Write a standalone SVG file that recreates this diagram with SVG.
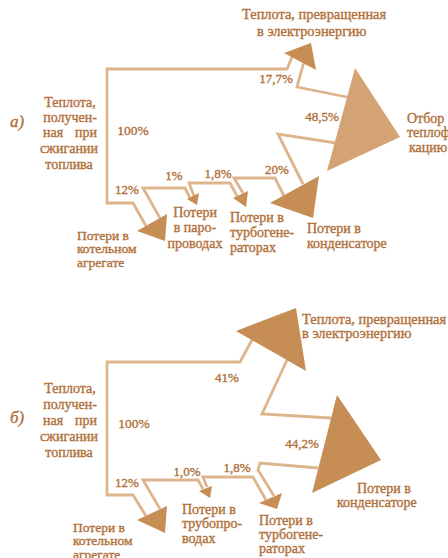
<svg xmlns="http://www.w3.org/2000/svg" width="448" height="558" viewBox="0 0 448 558">
<style>
.ln{fill:none;stroke:#DDB58C;stroke-width:2.8;stroke-linejoin:miter;stroke-miterlimit:10}
.ar{fill:#C68D55}
.arl{fill:#D3A373}
.t text{font-family:'Liberation Serif','Times New Roman',serif;font-size:14px;fill:#B0703A;stroke:#B0703A;stroke-width:0.35}
.t .p{font-size:13px}
.t .it{font-style:italic;font-size:17px}
.t .m{text-anchor:middle}
.t .s{font-size:13.5px}
</style>
<rect width="448" height="558" fill="#FFFFFF"/>
<g class="t">
<g id="connectors">
  <polyline class="ln" points="146,226 133,203 107,203 107,69 287,69 292,57"/>
  <polyline class="ln" points="303.5,63.5 297,87 347,97"/>
  <polyline class="ln" points="336,143 278,134 303,184"/>
  <polyline class="ln" points="284,196 275,178 234,178 243,193"/>
  <polyline class="ln" points="237,196 230,183 189,183 194,196"/>
  <polyline class="ln" points="190,198 185,188 143,188 160,218"/>
  <polygon class="ar" points="284,53 311,43 316,70"/>
  <polygon class="arl" points="355,68 400,137 327,171"/>
  <polygon class="ar" points="270,203 319,176 313,218"/>
  <polygon class="ar" points="233,198 248,191 246,207"/>
  <polygon class="ar" points="187,199 199,193 197,205"/>
  <polygon class="ar" points="137,231 167,214 165,241"/>
  <text class="p m" x="133" y="134.5" style="font-size:13.5px">100%</text>
  <text class="p m" x="276" y="82.5">17,7%</text>
  <text class="p m" x="322" y="120.5">48,5%</text>
  <text class="p m" x="127" y="193.5">12%</text>
  <text class="p m" x="174" y="179.5">1%</text>
  <text class="p m" x="218" y="177.5">1,8%</text>
  <text class="p m" x="277" y="173.5">20%</text>
  <polyline class="ln" points="146,516 133,495 107,495 107,362 240,362 252,340"/>
  <polyline class="ln" points="331,418 262,414 287,360"/>
  <polyline class="ln" points="274,496 258,470 260,463 318,468"/>
  <polyline class="ln" points="266,500 253,477 203,477 207,487"/>
  <polyline class="ln" points="203,489 198,480 143,480 160,509"/>
  <polygon class="ar" points="236,331 296,308 306,371"/>
  <polygon class="ar" points="337,395 381,460 312,493"/>
  <polygon class="ar" points="259,503 282,493 277,509"/>
  <polygon class="ar" points="199,491 212,486 210,498"/>
  <polygon class="ar" points="137,520 167,506 165,533"/>
  <text class="p m" x="134" y="427.5" style="font-size:13.5px">100%</text>
  <text class="p m" x="227" y="381.5">41%</text>
  <text class="p m" x="302" y="447.5">44,2%</text>
  <text class="p m" x="127" y="486.5">12%</text>
  <text class="p m" x="187" y="475.5">1,0%</text>
  <text class="p m" x="237" y="471.5">1,8%</text>
</g>
<g id="a-label"><text class="it" x="10" y="127">а)</text></g>
<g id="a-input">
  <text class="m" x="70" y="107">Теплота,</text>
  <text class="m" x="70" y="122">получен-</text>
  <text y="137"><tspan x="43">ная</tspan><tspan x="75">при</tspan></text>
  <text class="m" x="69" y="153">сжигании</text>
  <text class="m" x="69" y="169">топлива</text>
</g>
<g id="a-electricity">
  <text x="242" y="19" style="font-size:14.4px">Теплота, превращенная</text>
  <text x="257" y="36" style="font-size:14.4px">в электроэнергию</text>
</g>
<g id="a-heat">
  <text x="407" y="122.5">Отбор</text>
  <text x="407" y="137">теплофи-</text>
  <text x="409" y="151.5">кацию</text>
</g>
<g id="a-boiler">
  <text class="s" x="77" y="239.5">Потери в</text>
  <text class="s" x="77" y="253">котельном</text>
  <text class="s" x="77" y="266.5">агрегате</text>
</g>
<g id="a-pipes">
  <text class="m" x="195" y="216.5">Потери</text>
  <text class="m" x="195" y="232">в паро-</text>
  <text class="m" x="195" y="247.5">проводах</text>
</g>
<g id="a-turbine">
  <text x="230" y="221.5">Потери в</text>
  <text x="230" y="236.5">турбогене-</text>
  <text x="230" y="251.5">раторах</text>
</g>
<g id="a-condenser">
  <text x="307" y="232.5">Потери в</text>
  <text x="307" y="247.5">конденсаторе</text>
</g>
<g id="b-label"><text class="it" x="10" y="423">б)</text></g>
<g id="b-input">
  <text class="m" x="70" y="392.5">Теплота,</text>
  <text class="m" x="70" y="408.5">получен-</text>
  <text y="424.5"><tspan x="43">ная</tspan><tspan x="75">при</tspan></text>
  <text class="m" x="69" y="440.5">сжигании</text>
  <text class="m" x="69" y="456.5">топлива</text>
</g>
<g id="b-electricity">
  <text x="302" y="324" style="font-size:14.4px">Теплота, превращенная</text>
  <text x="302" y="338" style="font-size:14.4px">в электроэнергию</text>
</g>
<g id="b-boiler">
  <text class="s" x="73" y="531.5">Потери в</text>
  <text class="s" x="73" y="545">котельном</text>
  <text class="s" x="73" y="558.5">агрегате</text>
</g>
<g id="b-pipes">
  <text x="182" y="513.5">Потери в</text>
  <text x="182" y="528">трубопро-</text>
  <text x="182" y="542.5">водах</text>
</g>
<g id="b-turbine">
  <text x="259" y="524.5">Потери в</text>
  <text x="259" y="539">турбогене-</text>
  <text x="259" y="553">раторах</text>
</g>
<g id="b-condenser">
  <text x="357" y="492.5">Потери в</text>
  <text x="337" y="506.5">конденсаторе</text>
</g>
</g>
</svg>
